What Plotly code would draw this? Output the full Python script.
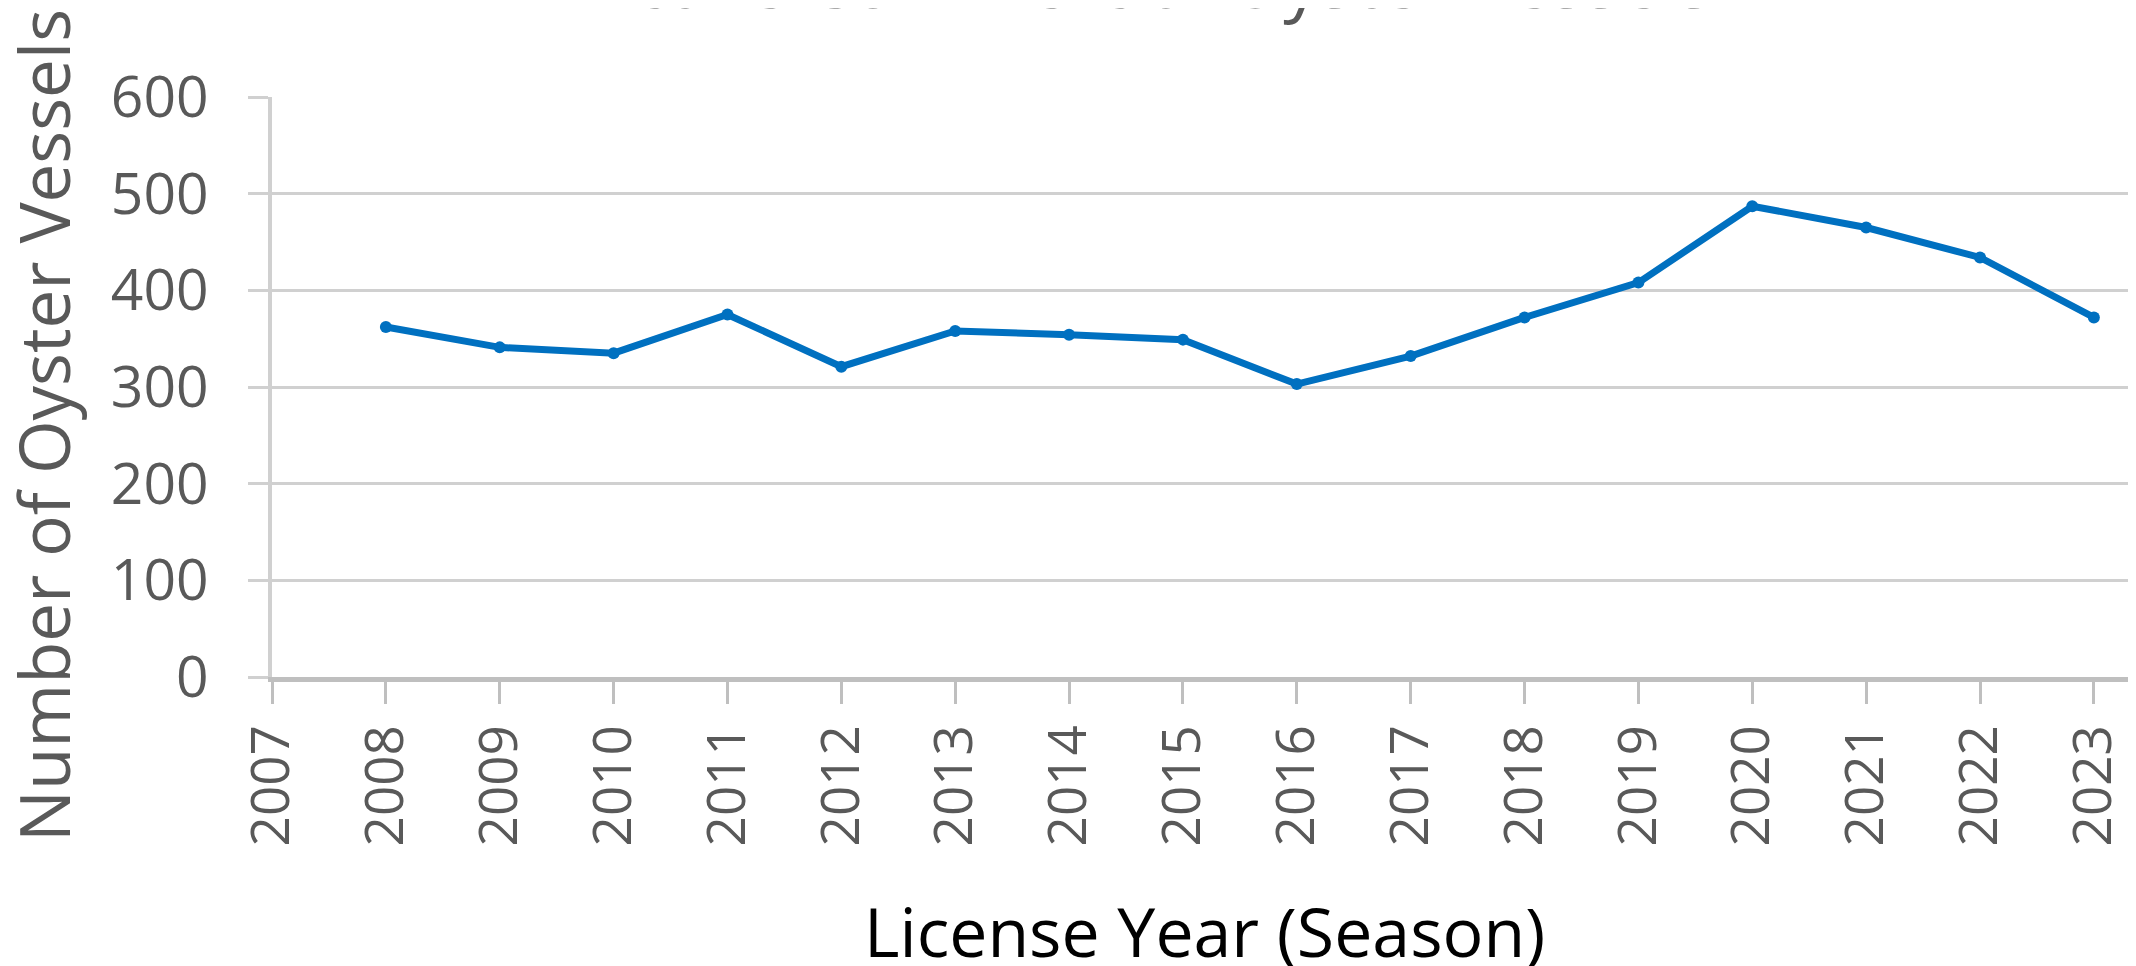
import plotly.graph_objects as go

years = list(range(2008, 2024))
vessels = [362, 341, 335, 375, 321, 358, 354, 349, 303, 332, 372, 408, 487, 465, 434, 372]
tick_years = list(range(2007, 2024))
tick_labels = [str(y) for y in tick_years]
y_ticks = [0, 100, 200, 300, 400, 500, 600]

title_text = "Active Commercial Oyster Vessels"
x_title = "License Year (Season)"
y_title = "Number of Oyster Vessels"

font_main = "Open Sans, Liberation Sans, sans-serif"
grey_txt = "#595959"

fig = go.Figure()
fig.add_trace(go.Scatter(
    x=years, y=vessels, mode="lines+markers",
    line=dict(color="#0070C0", width=7),
    marker=dict(color="#0070C0", size=12),
    showlegend=False, cliponaxis=False,
))

# the html page has an 8px body margin, so the figure is offset by 8px
fig.update_layout(
    width=2128, height=966,
    margin=dict(l=264, r=0, t=89, b=297, autoexpand=False),
    paper_bgcolor="white", plot_bgcolor="white",
    font=dict(family=font_main, color=grey_txt),
)
fig.update_xaxes(
    range=[2007, 2023.37], automargin=False,
    tickmode="array", tickvals=tick_years, ticktext=tick_labels,
    tickangle=-90,
    tickfont=dict(size=53, color=grey_txt, family=font_main),
    ticklabelstandoff=0,
    showgrid=False, zeroline=False,
    showline=True, linecolor="#BFBFBF", linewidth=5,
    ticks="outside", ticklen=22, tickwidth=3, tickcolor="#BFBFBF",
)
fig.update_yaxes(
    range=[0, 600], automargin=False,
    tickmode="array", tickvals=y_ticks,
    tickfont=dict(size=57, color=grey_txt, family=font_main),
    ticklabelstandoff=28,
    showgrid=True, gridcolor="#D0D0D0", gridwidth=3,
    zeroline=False,
    showline=True, linecolor="#D0D0D0", linewidth=4,
    ticks="outside", ticklen=20, tickwidth=3, tickcolor="#D0D0D0",
)
# chart title (mostly cut off at the top edge, as in the reference)
fig.add_annotation(
    text=title_text, xref="paper", yref="paper", x=0.471, y=1.0,
    yshift=66, xanchor="center", yanchor="bottom",
    font=dict(size=72, color=grey_txt, family=font_main), showarrow=False,
)
# y-axis title
fig.add_annotation(
    text=y_title, xref="paper", yref="paper", x=0, y=0.5,
    xshift=-229, yshift=-39, xanchor="center", yanchor="middle", textangle=-90,
    font=dict(size=69, color=grey_txt, family=font_main), showarrow=False,
)
# x-axis title
fig.add_annotation(
    text=x_title, xref="paper", yref="paper", x=0.5, y=0,
    yshift=-253, xanchor="center", yanchor="middle",
    font=dict(size=68, color="#000000", family=font_main), showarrow=False,
)
fig.write_html("out.html")
